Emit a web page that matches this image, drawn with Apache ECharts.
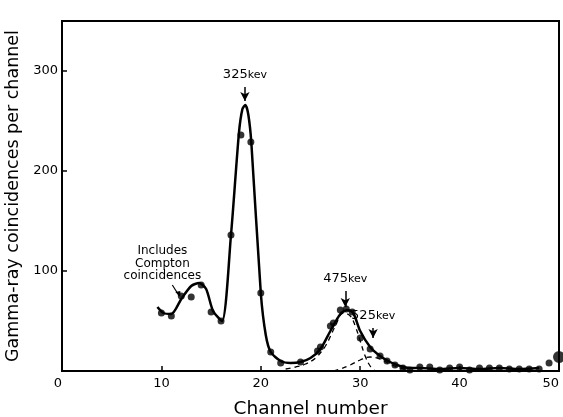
<!DOCTYPE html>
<html><head><meta charset="utf-8">
<script src="https://cdn.jsdelivr.net/npm/echarts@6/dist/echarts.min.js"></script>
<style>html,body{margin:0;padding:0;background:#fff}#c{width:563px;height:417px}</style>
</head><body><div id="c"></div>
<script>
// measured points (channel, counts)
const pointX = [10,11,12,13,14,15,16,17,18,19,20,21,22,24,25.7,26,27,27.3,28,28.6,29.2,30,31,32,32.7,33.5,34.3,35,36,37,38,39,40,41,42,43,44,45,46,47,48,49];
const pointY = [58,55,75,74,86,59,50,136,236,229,78,19,8,9,20,24,45,48,61,62,59,33,22,15,10,6,3,1,4,4,1,3,4,1,3,3,3,2,2,2,2,8];
// hand-drawn solid curve
const curveX = [9.6,10.2,11,12,13,13.8,14.5,15.2,16.1,17,17.8,18.15,18.45,18.75,19.05,20,20.5,21,22,23,24,25,26,27,28,28.7,29.3,30,31,32,33,34,35,36,38,40,42,44,46,48];
const curveY = [64,58,57,72,85,88,82,60,50,136,238,262,266,256,228,78,36,19,10,8,9,13,22,40,57,61,58,40,24,15,9,5,3,3,2,3,2,3,2,3];
// dashed fitted components
const peak475X = [22.5,23.5,24.5,25.5,26.5,27.5,28.3,29,29.5,30,30.5,31,31.5];
const peak475Y = [2,4,7,13,25,45,58,55,45,30,15,5,0];
const peak525X = [27.3,28,29,30,31,32,33,34,35];
const peak525Y = [0,2,6,11,14,12,7,3,1];
// large marker at right edge
const edgeX = [50];
const edgeY = [14];
const xTicks = [0,10,20,30,40,50];
const yTicks = [100,200,300];
const notes = [
  {x:18.4, y:287, tip:270, num:'325', unit:'kev'},
  {x:28.5, y:83, tip:64, num:'475', unit:'kev'},
  {x:31.3, y:46, tip:33, num:'525', unit:'kev'}
];
const zip = (a,b)=>a.map((v,i)=>[v,b[i]]);
const chart = echarts.init(document.getElementById('c'));
const font = 'DejaVu Sans';
const markLines = notes.map(n=>[{coord:[n.x,n.y-3]},{coord:[n.x,n.tip]}]);
const markPts = notes.map(n=>({coord:[n.x,n.y], value:n.num,
  label:{formatter:'{a|'+n.num+'}{b|'+n.unit+'}'}}));
chart.setOption({
  animation:false,
  grid:{left:62,right:4,top:21,bottom:46,containLabel:false,outerBoundsMode:'none',
    show:true,borderColor:'#000',borderWidth:2},
  xAxis:{type:'value',min:0,max:50,interval:10,
    name:'Channel number',nameLocation:'middle',nameGap:29,
    nameTextStyle:{fontFamily:font,fontSize:18.5,color:'#000'},
    axisLine:{lineStyle:{color:'#000',width:2}},
    axisTick:{inside:true,length:5,lineStyle:{color:'#000',width:1.5}},
    axisLabel:{fontFamily:font,fontSize:13,color:'#000',margin:6,
      alignMinLabel:'right',alignMaxLabel:'right',
      formatter:v=>xTicks.includes(v)?String(v):''},
    splitLine:{show:false}},
  yAxis:{type:'value',min:0,max:350,interval:100,
    name:'Gamma-ray coincidences per channel',nameLocation:'middle',nameGap:37,
    nameTextStyle:{fontFamily:font,fontSize:17.5,color:'#000'},
    axisLine:{lineStyle:{color:'#000',width:2}},
    axisTick:{inside:true,length:5,lineStyle:{color:'#000',width:1.5}},
    axisLabel:{fontFamily:font,fontSize:13,color:'#000',margin:4,
      formatter:v=>yTicks.includes(v)?String(v):''},
    splitLine:{show:false}},
  series:[
    {type:'line',data:zip(curveX,curveY),smooth:0.25,showSymbol:false,
      lineStyle:{color:'#000',width:2.5},z:2,
      markLine:{silent:true,symbol:['none','arrow'],symbolSize:[7,9],
        lineStyle:{color:'#000',width:1.5,type:'solid'},label:{show:false},data:markLines},
      markPoint:{symbol:'circle',symbolSize:1,itemStyle:{color:'transparent'},
        label:{show:true,position:'top',distance:2,color:'#000',
          rich:{a:{fontFamily:font,fontSize:13,color:'#000'},b:{fontFamily:font,fontSize:11,color:'#000'}}},
        data:markPts}},
    {type:'line',data:zip(peak475X,peak475Y),smooth:0.4,showSymbol:false,
      lineStyle:{color:'#000',width:1.3,type:[5,4]},z:1},
    {type:'line',data:zip(peak525X,peak525Y),smooth:0.4,showSymbol:false,
      lineStyle:{color:'#000',width:1.3,type:[5,4]},z:1},
    {type:'scatter',data:zip(pointX,pointY),symbolSize:7,
      itemStyle:{color:'#000'},z:3},
    {type:'scatter',data:zip(edgeX,edgeY),symbolSize:12,
      itemStyle:{color:'#000'},z:3}
  ]
});
// Compton annotation anchored to data coordinates
const comptonAt = chart.convertToPixel({gridIndex:0},[10.1,126]);
const arrowFrom = chart.convertToPixel({gridIndex:0},[11.1,86]);
const arrowTo = chart.convertToPixel({gridIndex:0},[11.8,75]);
chart.setOption({graphic:[
  {type:'text',x:comptonAt[0],y:comptonAt[1],
    style:{text:'Includes\nCompton\ncoincidences',fill:'#000',font:'12px '+font,align:'center',verticalAlign:'top',lineHeight:12.5}},
  {type:'line',shape:{x1:arrowFrom[0],y1:arrowFrom[1],x2:arrowTo[0],y2:arrowTo[1]},style:{stroke:'#000',lineWidth:1.2}},
  {type:'polygon',shape:{points:[[arrowTo[0]+1,arrowTo[1]+1],[arrowTo[0]-4,arrowTo[1]-4],[arrowTo[0]+1,arrowTo[1]-5]]},style:{fill:'#000'}}
]});
</script></body></html>
